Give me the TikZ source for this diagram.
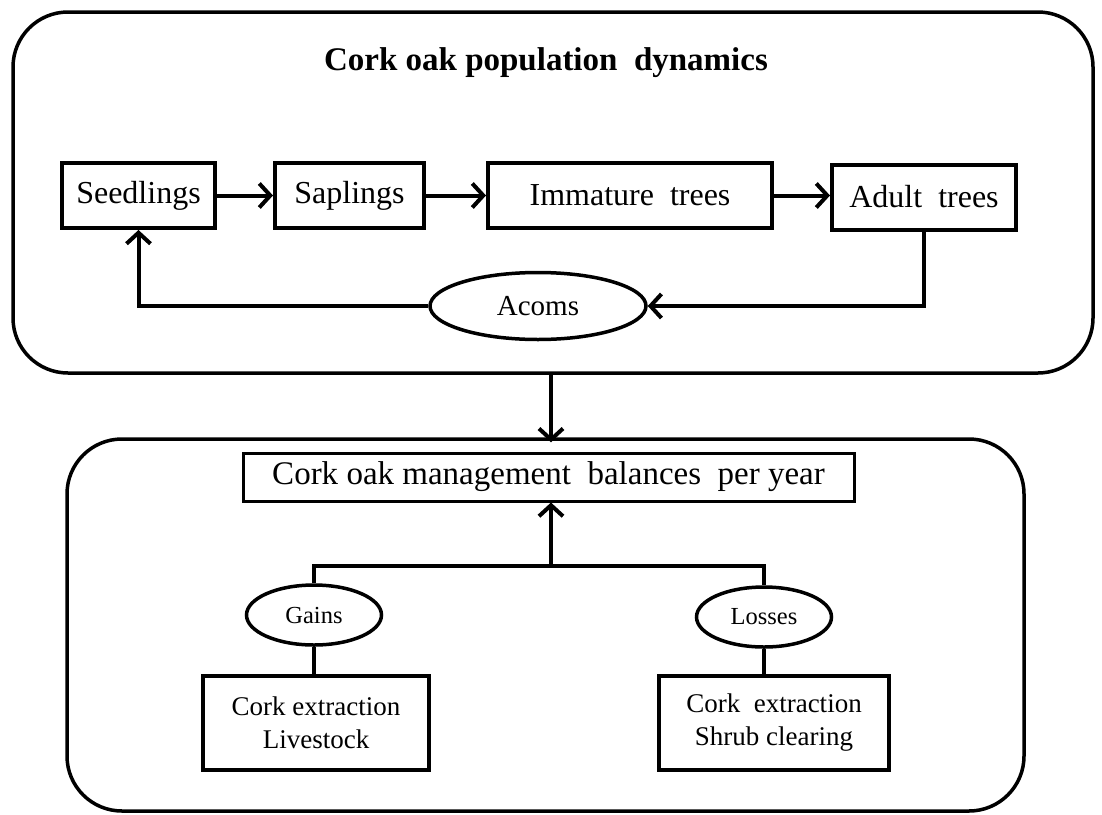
\documentclass[tikz,border=0pt]{standalone}
\usepackage{fontspec}
\setmainfont{Liberation Serif}
\usetikzlibrary{arrows.meta,shapes.geometric}
\begin{document}
\begin{tikzpicture}[x=1pt,y=-1pt,
  frame/.style={draw,line width=3.5pt,rounded corners=55pt,inner sep=0pt},
  stage/.style={draw,line width=4pt,minimum height=65pt,inner sep=0pt,
    font=\fontsize{32}{36}\selectfont},
  oval/.style={draw,ellipse,line width=3.5pt,inner sep=0pt,
    font=\fontsize{24.5}{28}\selectfont},
  itembox/.style={draw,line width=4pt,minimum height=94pt,inner sep=0pt,
    align=center,font=\fontsize{27}{33}\selectfont},
  flow/.style={line width=4pt,-{Straight Barb[length=11pt,width=24pt,line width=4pt]}},
  link/.style={line width=4pt}]
\useasboundingbox (0,0) rectangle (1102,814);

% outer frames
\node[frame,minimum width=1080pt,minimum height=361pt] (popframe) at (553,192.5) {};
\node[frame,minimum width=957pt,minimum height=372pt] (mgmtframe) at (545.5,625) {};

% population dynamics
\node[font=\fontsize{33}{38}\selectfont\bfseries] (poptitle) at (546,63) {Cork oak population\ \ dynamics};
\node[stage,minimum width=153pt] (seed) at (138.5,195.5) {Seedlings};
\node[stage,minimum width=149pt] (sap) at (349.5,195.5) {Saplings};
\node[stage,minimum width=284pt] (imm) at (630,195.5) {Immature\ \ trees};
\node[stage,minimum width=184pt] (adult) at (924,197) {Adult\ \ trees};
\node[oval,minimum width=216pt,minimum height=67pt,font=\fontsize{29}{32}\selectfont] (acorn) at (538,306) {Acoms};

\draw[flow] (seed.east) -- (sap.west);
\draw[flow] (sap.east) -- (imm.west);
\draw[flow] (imm.east) -- (imm.east -| adult.west);
\draw[flow] (adult.south) |- (acorn.east);
\draw[flow] (acorn.west) -| (seed.south);

% management balances
\coordinate (junc) at (551,566);
\node[draw,line width=3pt,minimum width=611pt,minimum height=48pt,inner sep=0pt,
  font=\fontsize{33}{36}\selectfont] (balance) at (548.5,477) {Cork oak management\ \ balances\ \ per year};
\draw[flow] (popframe.south -| junc) -- ([yshift=-5pt]mgmtframe.north -| junc);

\node[oval,minimum width=135pt,minimum height=60pt] (gains) at (314,615) {Gains};
\node[oval,minimum width=135pt,minimum height=60pt] (losses) at (764,617) {Losses};
\node[itembox,minimum width=226pt] (gainitems) at (316,723) {Cork extraction\\Livestock};
\node[itembox,minimum width=230pt] (lossitems) at (774,723) {Cork\ \ extraction\\Shrub clearing};

\draw[link] (gains.north) -- (gains.north |- junc) -- (losses.north |- junc) -- (losses.north);
\draw[flow] (junc) -- (junc |- balance.south);
\draw[link] (gains.south) -- (gains.south |- gainitems.north);
\draw[link] (losses.south) -- (losses.south |- lossitems.north);
\end{tikzpicture}
\end{document}
